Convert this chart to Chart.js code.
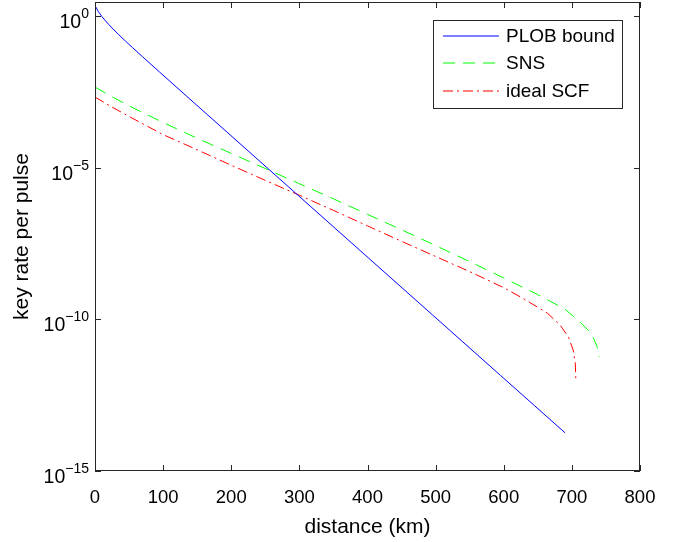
<!DOCTYPE html>
<html>
<head>
<meta charset="utf-8">
<script src="https://cdn.jsdelivr.net/npm/chart.js@4.4.1/dist/chart.umd.min.js"></script>
<style>
  html, body { margin: 0; padding: 0; background: #fff; }
  #wrap { width: 684px; height: 542px; }
</style>
</head>
<body>
<div id="wrap"><canvas id="chart"></canvas></div>
<script>
// --- DATA ---
const plobKm   = [0, 5, 10, 15, 20, 25, 35, 45, 55, 70, 95, 145, 195, 295, 395, 495, 595, 690];
const plobRate = [2.28, 1.44, 1.0, 0.733, 0.548, 0.417, 0.248, 0.152, 0.094, 0.0464, 0.0145, 1.44e-3, 1.44e-4,
                  1.44e-6, 1.44e-8, 1.44e-10, 1.44e-12, 1.82e-14];

const snsKm   = [0, 25, 50, 100, 150, 200, 250, 300, 350, 400, 450, 500, 550, 600, 650, 690, 712, 727, 733, 737, 740];
const snsRate = [4.68e-3, 2.24e-3, 1.12e-3, 3.16e-4, 9.55e-5, 3.02e-5, 9.55e-6, 3.02e-6, 9.55e-7, 2.95e-7,
                 9.12e-8, 2.75e-8, 8.13e-9, 2.34e-9, 6.61e-10, 2.19e-10, 8.13e-11, 3.80e-11, 2.09e-11, 1.26e-11, 5.75e-12];

const scfKm   = [0, 25, 50, 100, 150, 200, 250, 300, 350, 400, 450, 500, 550, 600, 628, 650, 664, 683, 695, 702, 705, 706];
const scfRate = [2.19e-3, 1.02e-3, 5.01e-4, 1.26e-4, 3.98e-5, 1.23e-5, 3.89e-6, 1.26e-6, 3.98e-7, 1.23e-7,
                 3.80e-8, 1.20e-8, 3.80e-9, 1.12e-9, 5.01e-10, 2.51e-10, 1.62e-10, 6.46e-11, 2.63e-11, 9.77e-12, 3.63e-12, 8.51e-13];

const seriesNames  = ['PLOB bound', 'SNS', 'ideal SCF'];
const seriesColors = ['#0000ff', '#00ff00', '#ff0000'];
const seriesDashes = [[], [12, 8], [10, 4, 2, 4]];

const xTicks = [0, 100, 200, 300, 400, 500, 600, 700, 800];
const yTicks = [1e-15, 1e-10, 1e-5, 1e0];
const yExp   = ["\u221215", "\u221210", "\u22125", "0"];

const FONT = "'Liberation Sans', Arial, Helvetica, sans-serif";
const AXIS = '#262626';

const pts = (xs, ys) => xs.map((x, i) => ({ x: x, y: ys[i] }));

// --- PLUGIN: box, inward ticks, 10^n labels, boxed legend ---
const matlabAxes = {
    id: 'matlabAxes',
    afterDraw(chart) {
        const ctx = chart.ctx;
        const a = chart.chartArea;
        const xs = chart.scales.x, ys = chart.scales.y;
        ctx.save();
        ctx.strokeStyle = AXIS;
        ctx.lineWidth = 1;
        ctx.setLineDash([]);
        ctx.strokeRect(a.left + 0.5, a.top + 0.5, a.right - a.left - 1, a.bottom - a.top - 1);

        const tl = 6;
        ctx.beginPath();
        xTicks.forEach(v => {
            const px = Math.round(xs.getPixelForValue(v)) + 0.5;
            ctx.moveTo(px, a.bottom); ctx.lineTo(px, a.bottom - tl);
            ctx.moveTo(px, a.top); ctx.lineTo(px, a.top + tl);
        });
        yTicks.forEach(v => {
            const py = Math.round(ys.getPixelForValue(v)) + 0.5;
            ctx.moveTo(a.left, py); ctx.lineTo(a.left + tl, py);
            ctx.moveTo(a.right, py); ctx.lineTo(a.right - tl, py);
        });
        ctx.stroke();

        // y tick labels as 10 with superscript
        ctx.fillStyle = '#000';
        ctx.textBaseline = 'alphabetic';
        yTicks.forEach((v, i) => {
            const py = ys.getPixelForValue(v);
            ctx.font = `14px ${FONT}`;
            const ew = ctx.measureText(yExp[i]).width;
            const right = a.left - 6;
            ctx.textAlign = 'left';
            ctx.fillText(yExp[i], right - ew, py + 2);
            ctx.font = `19.5px ${FONT}`;
            ctx.textAlign = 'right';
            ctx.fillText('10', right - ew, py + 12);
        });
        ctx.restore();

        // legend
        const lx = 433, ly = 20, lw = 189, lh = 88;
        ctx.save();
        ctx.fillStyle = '#fff';
        ctx.fillRect(lx, ly, lw, lh);
        ctx.strokeStyle = AXIS;
        ctx.lineWidth = 1;
        ctx.strokeRect(lx + 0.5, ly + 0.5, lw, lh);
        const rows = [36, 63, 91];
        seriesNames.forEach((name, i) => {
            ctx.beginPath();
            ctx.lineWidth = 1.2;
            ctx.strokeStyle = seriesColors[i];
            ctx.setLineDash(seriesDashes[i]);
            ctx.moveTo(443, rows[i]);
            ctx.lineTo(499, rows[i]);
            ctx.stroke();
            ctx.setLineDash([]);
            ctx.fillStyle = '#000';
            ctx.font = `19px ${FONT}`;
            ctx.textAlign = 'left';
            ctx.textBaseline = 'middle';
            ctx.fillText(name, 506, rows[i] + 1);
        });
        ctx.restore();
    }
};

// --- CHART ---
const allKm = [plobKm, snsKm, scfKm];
const allRate = [plobRate, snsRate, scfRate];

new Chart(document.getElementById('chart'), {
    type: 'line',
    data: {
        datasets: seriesNames.map((name, i) => ({
            label: name,
            data: pts(allKm[i], allRate[i]),
            borderColor: seriesColors[i],
            borderWidth: 1,
            borderDash: seriesDashes[i]
        }))
    },
    options: {
        responsive: true,
        maintainAspectRatio: false,
        animation: false,
        events: [],
        elements: { point: { radius: 0 }, line: { tension: 0 } },
        layout: { padding: { left: 0, right: 44, top: 2, bottom: 0 } },
        plugins: { legend: { display: false }, tooltip: { enabled: false } },
        scales: {
            x: {
                type: 'linear', min: 0, max: 800,
                afterBuildTicks: s => { s.ticks = xTicks.map(v => ({ value: v })); },
                afterFit: s => { s.height = 71; },
                grid: { display: false, drawTicks: false },
                border: { display: false },
                ticks: { color: '#000', font: { family: FONT, size: 18.5 }, padding: 16, maxRotation: 0 },
                title: { display: true, text: 'distance (km)', color: '#000',
                         font: { family: FONT, size: 21 }, padding: { top: 0, bottom: 2 } }
            },
            y: {
                type: 'logarithmic', min: 1e-15, max: 3,
                afterBuildTicks: s => { s.ticks = yTicks.map(v => ({ value: v })); },
                afterFit: s => { s.width = 95; },
                grid: { display: false, drawTicks: false },
                border: { display: false },
                ticks: { display: false },
                title: { display: true, text: 'key rate per pulse', color: '#000',
                         font: { family: FONT, size: 21 }, padding: { top: 10, bottom: 0 } }
            }
        }
    },
    plugins: [matlabAxes]
});
</script>
</body>
</html>
